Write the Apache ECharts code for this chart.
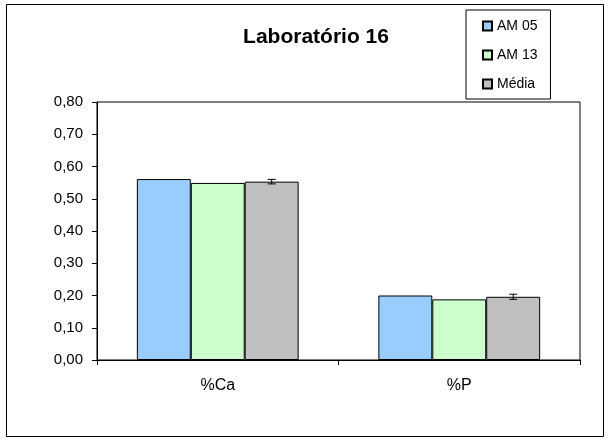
<!DOCTYPE html>
<html><head><meta charset="utf-8">
<script src="https://cdn.jsdelivr.net/npm/echarts@6/dist/echarts.min.js"></script>
<style>html,body{margin:0;padding:0;background:#fff}#c{width:610px;height:442px}</style>
</head><body><div id="c"></div>
<script>
const categories = ['%Ca', '%P'];
const am05 = [0.561, 0.200];
const am13 = [0.549, 0.188];
const media = [0.553, 0.196];
const mediaErr = [0.007, 0.008];
const seriesNames = ['AM 05', 'AM 13', 'Média'];
const yTicks = { min: 0, max: 0.8, interval: 0.1 };

const chart = echarts.init(document.getElementById('c'));
const FONT = 'Liberation Sans, Arial, sans-serif';
const CAT_GAP = 0.33;
const barStyle = c => ({ color: c, borderColor: '#000', borderWidth: 1 });

chart.setOption({
  animation: false,
  textStyle: { fontFamily: FONT },
  graphic: [{ type: 'rect', shape: { x: 6.5, y: 4.5, width: 597, height: 432 }, style: { fill: 'none', stroke: '#000', lineWidth: 1 }, z: -1 }],
  title: { text: 'Laboratório 16', left: 311, top: 22, textAlign: 'center',
    textStyle: { fontFamily: FONT, fontSize: 21, fontWeight: 'bold', color: '#000' } },
  legend: {
    orient: 'vertical', left: 466, top: 10,
    padding: [9, 13, 8, 16], itemGap: 15, itemWidth: 9, itemHeight: 9, itemTextGap: 5,
    borderColor: '#000', borderWidth: 1, backgroundColor: '#fff',
    icon: 'rect',
    textStyle: { fontFamily: FONT, fontSize: 14, color: '#000' },
    data: seriesNames
  },
  grid: { left: 97, right: 30, top: 102, bottom: 82, show: true, borderColor: '#000', borderWidth: 1, backgroundColor: 'transparent' },
  xAxis: {
    type: 'category', data: categories,
    axisLine: { lineStyle: { color: '#000' } },
    axisTick: { show: true, length: 5, lineStyle: { color: '#000' } },
    axisLabel: { color: '#000', fontSize: 16, fontFamily: FONT, margin: 18 }
  },
  yAxis: {
    type: 'value', min: yTicks.min, max: yTicks.max, interval: yTicks.interval,
    axisLine: { show: true, lineStyle: { color: '#000' } },
    axisTick: { show: true, length: 5, lineStyle: { color: '#000' } },
    splitLine: { show: false },
    axisLabel: { color: '#000', fontSize: 15, fontFamily: FONT, margin: 14,
      formatter: v => v.toFixed(2).replace('.', ',') }
  },
  series: [
    { name: seriesNames[0], type: 'bar', data: am05, itemStyle: barStyle('#99CCFF'), barGap: '0%', barCategoryGap: (CAT_GAP * 100) + '%' },
    { name: seriesNames[1], type: 'bar', data: am13, itemStyle: barStyle('#CCFFCC'), barGap: '0%', barCategoryGap: (CAT_GAP * 100) + '%' },
    { name: seriesNames[2], type: 'bar', data: media, itemStyle: barStyle('#C0C0C0'), barGap: '0%', barCategoryGap: (CAT_GAP * 100) + '%' },
    {
      type: 'custom', name: 'err', z: 10,
      data: media.map((v, i) => [i, v - mediaErr[i], v + mediaErr[i]]),
      renderItem: function (params, api) {
        const i = api.value(0);
        const lo = api.coord([i, api.value(1)]);
        const hi = api.coord([i, api.value(2)]);
        const band = api.size([1, 0])[0];
        const bw = band * (1 - CAT_GAP) / 3;
        const x = lo[0] + bw;
        const hw = 4;
        return { type: 'group', children: [
          { type: 'line', shape: { x1: x, y1: lo[1], x2: x, y2: hi[1] }, style: { stroke: '#000', lineWidth: 1 } },
          { type: 'line', shape: { x1: x - hw, y1: lo[1], x2: x + hw, y2: lo[1] }, style: { stroke: '#000', lineWidth: 1 } },
          { type: 'line', shape: { x1: x - hw, y1: hi[1], x2: x + hw, y2: hi[1] }, style: { stroke: '#000', lineWidth: 1 } }
        ]};
      }
    }
  ]
});
</script></body></html>
